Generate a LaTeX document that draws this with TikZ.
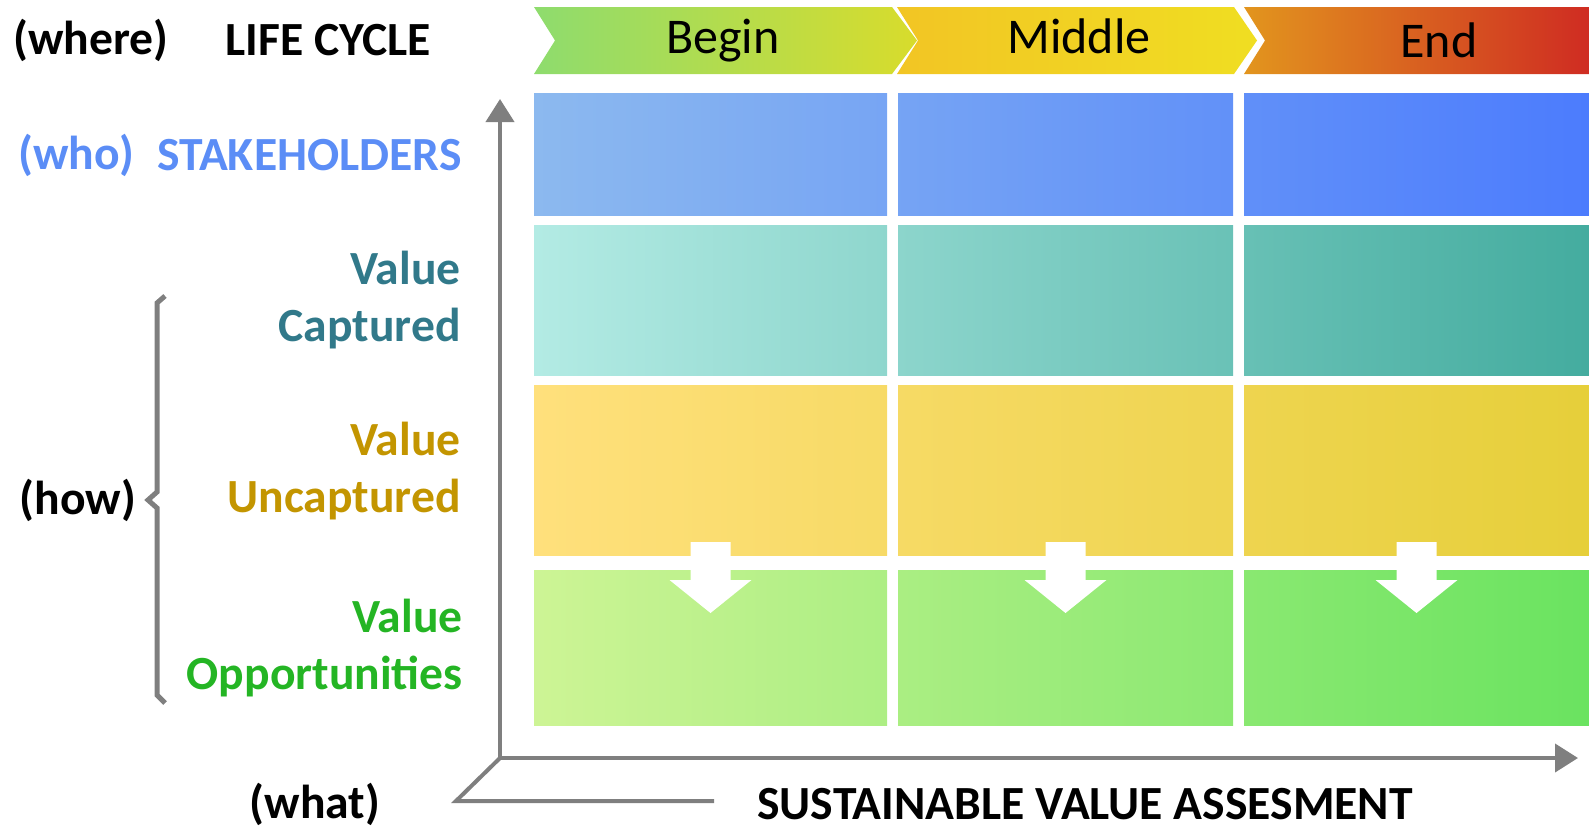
\documentclass[tikz,border=0pt]{standalone}
\usepackage{fontspec}
\setmainfont{Carlito}
\usetikzlibrary{arrows.meta,calc,positioning}
\definecolor{axgray}{HTML}{7F7F7F}
\definecolor{stkA}{HTML}{8CB9EF}\definecolor{stkB}{HTML}{4C7CFD}
\definecolor{capA}{HTML}{B3EBE4}\definecolor{capB}{HTML}{44AC9F}
\definecolor{uncA}{HTML}{FFE07C}\definecolor{uncB}{HTML}{E6CF3A}
\definecolor{oppA}{HTML}{CDF495}\definecolor{oppB}{HTML}{6AE360}
\definecolor{begA}{HTML}{8EDC6E}\definecolor{begB}{HTML}{D8DC2C}
\definecolor{midA}{HTML}{F2C524}\definecolor{midB}{HTML}{F0DE22}
\definecolor{endA}{HTML}{E2951E}\definecolor{endB}{HTML}{CF2C22}
\definecolor{whoblue}{HTML}{5B8DF6}
\definecolor{capteal}{HTML}{31798A}
\definecolor{uncgold}{HTML}{C39500}
\definecolor{oppgreen}{HTML}{24B524}
\tikzset{cell/.style={inner sep=0pt, outer sep=0pt, anchor=north west},
  lbl/.style={font=\bfseries\fontsize{23.8}{28.5}\selectfont, align=right, inner sep=0pt},
  head/.style={font=\fontsize{25}{30}\selectfont, anchor=base},
  axis/.style={draw=axgray, line width=2pt},
  tip/.style={{Triangle[length=11.5pt,width=14pt]}-{Triangle[length=11.5pt,width=14pt]}}}

\begin{document}
\begin{tikzpicture}[x=0.5pt, y=-0.5pt]
  \useasboundingbox (0,0) rectangle (1589,830);
  % life cycle chevrons
  \foreach \i/\xa/\xb/\tp/\ca/\cb/\txt/\tx/\ty in {1/534/892/25/begA/begB/Begin/723/54,
      2/897/1234/23/midA/midB/Middle/1079/54, 3/1244/1589/0/endA/endB/End/1439/57}{
    \shade[left color=\ca, right color=\cb] (\xa,7) -- (\xb,7) -- (\xb+\tp,40.5)
      -- (\xb,74) -- (\xa,74) -- (\xa+21,40.5) -- cycle;
    \node[head] (ph\i) at (\tx,\ty) {\txt};
  }
  % grid of cells, one horizontal shading per row
  \foreach \r/\ya/\yb/\ca/\cb in {1/93/215/stkA/stkB, 2/225/375/capA/capB,
      3/385/555/uncA/uncB, 4/570/725/oppA/oppB}{
    \foreach \c/\xa/\xb/\pa/\pb in {1/534/887/0/33, 2/898/1233/35/66, 3/1244/1589/68/100}{
      \pgfmathsetmacro\w{(\xb-\xa)/2}
      \pgfmathsetmacro\h{(\yb-\ya)/2}
      \node[cell, minimum width=\w pt, minimum height=\h pt,
        left color=\cb!\pa!\ca, right color=\cb!\pb!\ca] (c\r\c) at (\xa,\ya) {};
    }
  }
  % white arrows from uncaptured to opportunities
  \foreach \c in {1,2,3}
    \fill[white] (c3\c.south) ++(-20,-13) -- ++(40,0) -- ++(0,38) -- ++(21,0)
      -- ++(-41,33) -- ++(-41,-33) -- ++(21,0) -- cycle;
  % axes
  \coordinate (o) at (500,758);
  \coordinate (ytip) at (500,99);
  \coordinate (xtip) at (1578,758);
  \coordinate (d1) at (456,801);
  \coordinate (d2) at (714,801);
  \draw[axis, tip] (ytip) -- (o) -- (xtip);
  \draw[axis] (o) -- (d1) -- (d2);
  % brace for the three value rows
  \draw[draw=axgray, line width=2.5pt] (165,296) -- (157,303) -- (157,492) -- (148,500)
    -- (157,508) -- (157,695) -- (165,703);
  % labels
  \node[lbl] (where) at (91,40) {(where)};
  \node[lbl] (life) at (328,40) {LIFE CYCLE};
  \node[lbl, text=whoblue] (who) at (76,155) {(who)};
  \node[lbl, text=whoblue, anchor=east] (stk) at (462,155) {STAKEHOLDERS};
  \node[lbl, text=capteal, anchor=east] (vcap) at (461,300) {Value\\Captured};
  \node[lbl, text=uncgold, anchor=east] (vunc) at (461,471) {Value\\Uncaptured};
  \node[lbl, text=oppgreen, anchor=east] (vopp) at (463,648) {Value\\Opportunities};
  \node[lbl] (how) at (78,500) {(how)};
  \node[lbl] (what) at (315,804) {(what)};
  \node[lbl] (sva) at (1085,804) {SUSTAINABLE VALUE ASSESMENT};
\end{tikzpicture}
\end{document}
